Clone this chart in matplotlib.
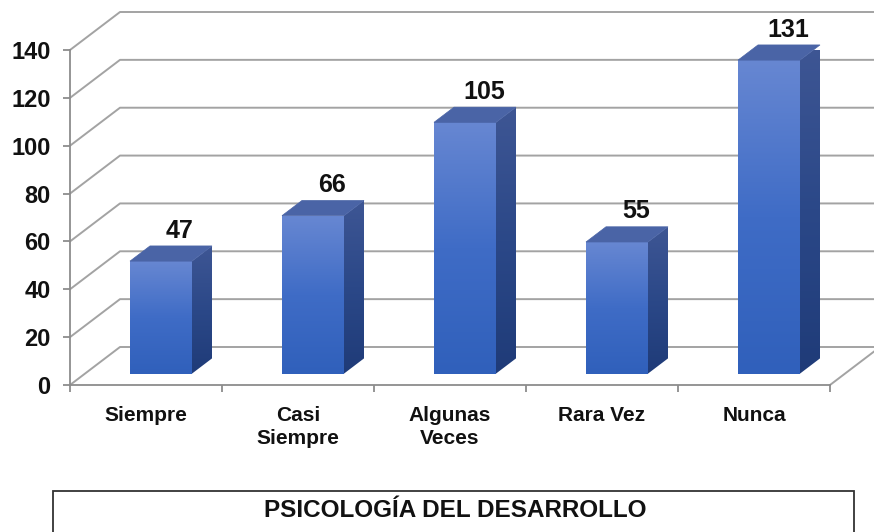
import numpy as np
import matplotlib
matplotlib.use("Agg")
import matplotlib.pyplot as plt
from matplotlib.patches import Polygon, Rectangle
from matplotlib.colors import LinearSegmentedColormap

categories = ["Siempre", "Casi\nSiempre", "Algunas\nVeces", "Rara Vez", "Nunca"]
values = [47, 66, 105, 55, 131]
yticks = [0, 20, 40, 60, 80, 100, 120, 140]
title = "PSICOLOGÍA DEL DESARROLLO"

plt.rcParams['font.family'] = ['Liberation Sans', 'DejaVu Sans']

W, H = 874, 532
fig = plt.figure(figsize=(W / 100, H / 100), dpi=100)
x0, x1, yb, yt = 70, 830, 385, 50
ax = fig.add_axes([x0 / W, 1 - yb / H, (x1 - x0) / W, (yb - yt) / H])
n = len(categories)
ax.set_xlim(-0.5, n - 0.5)
ax.set_ylim(0, 140)
ax.patch.set_visible(False)

# depth offsets in data units
DX = 50 / ((x1 - x0) / n)
DY = 38 / ((yb - yt) / 140)

grid_c = "#a3a3a3"
# back wall gridlines + left wall
for v in yticks:
    ax.plot([-0.5, -0.5 + DX, n - 0.5 + DX * 1.2], [v, v + DY, v + DY],
            color=grid_c, lw=1.4, clip_on=False, zorder=1)
# floor right diagonal
ax.plot([n - 0.5, n - 0.5 + DX], [0, DY], color=grid_c, lw=1.4, clip_on=False, zorder=1)

front_cmap = LinearSegmentedColormap.from_list("f", ["#3060bb", "#3f6cc6", "#6787d2"])
side_cmap = LinearSegmentedColormap.from_list("s", ["#1f3b78", "#2b4888", "#3e5694"])
top_col = "#4a64a6"

hw = 62 / ((x1 - x0) / n) / 2
d0, d1 = 0.3, 0.7
grad = np.linspace(0, 1, 256).reshape(-1, 1)
for i, v in enumerate(values):
    xl = i - hw + d0 * DX
    xr = i + hw + d0 * DX
    yb0 = d0 * DY
    yt0 = v + d0 * DY
    ddx = (d1 - d0) * DX
    ddy = (d1 - d0) * DY
    # front face
    im = ax.imshow(grad, cmap=front_cmap, origin="lower", aspect="auto",
                   extent=[xl, xr, yb0, yt0], zorder=3, interpolation="bilinear")
    im.set_clip_box(None)
    im.set_clip_on(False)
    # side face
    side = Polygon([[xr, yb0], [xr + ddx, yb0 + ddy], [xr + ddx, yt0 + ddy], [xr, yt0]],
                   closed=True, facecolor="none", edgecolor="none", transform=ax.transData)
    ax.add_patch(side)
    im2 = ax.imshow(grad, cmap=side_cmap, origin="lower", aspect="auto",
                    extent=[xr, xr + ddx, yb0, yt0 + ddy], zorder=3, interpolation="bilinear")
    im2.set_clip_path(side)
    im2.set_clip_box(None)
    # top face
    top = Polygon([[xl, yt0], [xr, yt0], [xr + ddx, yt0 + ddy], [xl + ddx, yt0 + ddy]],
                  closed=True, facecolor=top_col, edgecolor=top_col, lw=0.5,
                  clip_on=False, zorder=4)
    ax.add_patch(top)
    # value label
    ax.annotate(str(v), xy=(i + 0.68 * DX, v + d1 * DY), xytext=(0, 6),
                textcoords="offset points", ha="center", va="baseline",
                fontsize=18, fontweight="bold", color="#111111",
                annotation_clip=False, zorder=5)

# axes styling
for s in ["top", "right"]:
    ax.spines[s].set_visible(False)
for s in ["left", "bottom"]:
    ax.spines[s].set_color("#8c8c8c")
    ax.spines[s].set_linewidth(1.3)
ax.set_yticks(yticks)
ax.set_yticklabels([str(t) for t in yticks], fontsize=17, fontweight="bold", color="#111111")
ax.tick_params(axis="y", length=5, width=1.3, color="#8c8c8c", pad=9)
ax.set_xticks(range(n))
ax.set_xticklabels(categories, fontsize=15, fontweight="bold", color="#111111",
                   linespacing=1.3)
ax.set_xticks(np.arange(-0.5, n, 1.0), minor=True)
ax.tick_params(axis="x", which="major", length=0, pad=15)
ax.tick_params(axis="x", which="minor", length=5, width=1.3, color="#8c8c8c")

# title box
box = Rectangle((52.7 / W, -0.1), (854 - 52.7) / W, 0.1 + 1 - 491 / H,
                transform=fig.transFigure, facecolor="white", edgecolor="#333333",
                lw=1.3, clip_on=False)
fig.patches.append(box)
fig.text(455.5 / W, 1 - 517 / H, title, ha="center", va="baseline",
         fontsize=17.5, fontweight="bold", color="#111111")

fig.savefig("out.png", dpi=100)
